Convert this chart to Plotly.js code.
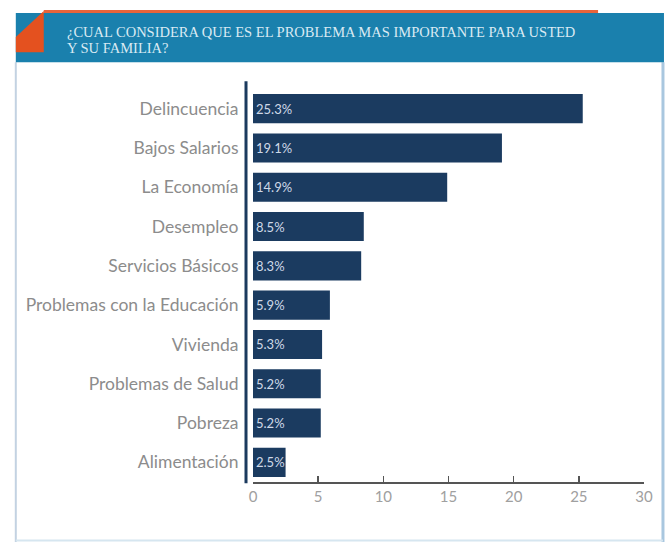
<!DOCTYPE html>
<html>
<head>
<meta charset="utf-8">
<script src="https://cdn.plot.ly/plotly-3.0.1.min.js"></script>
<style>html,body{margin:0;padding:0;background:#fff;}#chart{width:672px;height:542px;}</style>
</head>
<body>
<div id="chart"></div>
<script>
const categories = ["Delincuencia","Bajos Salarios","La Economía","Desempleo","Servicios Básicos","Problemas con la Educación","Vivienda","Problemas de Salud","Pobreza","Alimentación"];
const values = [25.3, 19.1, 14.9, 8.5, 8.3, 5.9, 5.3, 5.2, 5.2, 2.5];
const valueLabels = ["25.3%","19.1%","14.9%","8.5%","8.3%","5.9%","5.3%","5.2%","5.2%","2.5%"];
const xTicks = [0, 5, 10, 15, 20, 25, 30];
const titleLines = ["¿CUAL CONSIDERA QUE ES EL PROBLEMA MAS IMPORTANTE PARA USTED", "Y SU FAMILIA?"];

const W = 672, H = 542;
const L = 252.5, R = 28, T = 88.85, B = 60.35;
const pw = W - L - R, ph = H - T - B;
const px = x => (x - L) / pw;
const py = y => (H - B - y) / ph;

const shapes = [
  // frame
  {type:'line', xref:'paper', yref:'paper', x0:px(15), x1:px(15), y0:py(62), y1:py(542), line:{color:'#c3d2e2', width:2}, layer:'below'},
  {type:'line', xref:'paper', yref:'paper', x0:px(663), x1:px(663), y0:py(62), y1:py(542), line:{color:'#a9c7df', width:3}, layer:'below'},
  {type:'line', xref:'paper', yref:'paper', x0:px(15), x1:px(663), y0:py(540), y1:py(540), line:{color:'#d6e6f0', width:2}, layer:'below'},
  // orange top stripe
  {type:'rect', xref:'paper', yref:'paper', x0:px(43), x1:px(598), y0:py(14), y1:py(10), fillcolor:'#e8643a', line:{width:0}},
  // blue banner
  {type:'rect', xref:'paper', yref:'paper', x0:px(15), x1:px(664), y0:py(62), y1:py(13), fillcolor:'#1a80ad', line:{width:0}},
  // orange corner
  {type:'path', xref:'paper', yref:'paper',
   path:'M '+px(15)+' '+py(37)+' L '+px(43)+' '+py(11)+' L '+px(43)+' '+py(52)+' L '+px(15)+' '+py(52)+' Z',
   fillcolor:'#e4511f', line:{width:0}},
  // y axis line
  {type:'line', xref:'paper', yref:'paper', x0:px(245.5), x1:px(245.5), y0:py(483), y1:py(81), line:{color:'#1b3a5e', width:3}}
];

const annotations = [
  {xref:'paper', yref:'paper', x:px(64), y:py(31.5), xanchor:'left', yanchor:'middle', showarrow:false, text:titleLines[0],
   font:{family:'Liberation Serif, serif', size:14.5, color:'#d9eaf3'}},
  {xref:'paper', yref:'paper', x:px(64), y:py(48), xanchor:'left', yanchor:'middle', showarrow:false, text:titleLines[1],
   font:{family:'Liberation Serif, serif', size:14.5, color:'#d9eaf3'}}
];

const trace = {
  type:'bar', orientation:'h', x:values, y:categories,
  marker:{color:'#1b3b60', line:{width:0}},
  text:valueLabels, textposition:'inside', insidetextanchor:'start',
  textfont:{family:'Lato, sans-serif', size:13, color:'#cfd9e8'},
  hoverinfo:'none', cliponaxis:false
};

const layout = {
  width:W, height:H,
  margin:{l:L, r:R, t:T, b:B, pad:0},
  paper_bgcolor:'#ffffff', plot_bgcolor:'#ffffff',
  showlegend:false, bargap:0.26,
  uniformtext:{mode:'show', minsize:13},
  font:{family:'Lato, sans-serif'},
  xaxis:{range:[0,30], tickvals:xTicks, ticktext:xTicks.map(String), showgrid:false, zeroline:false,
    showline:true, linecolor:'#555555', linewidth:1.5, ticks:'inside', ticklen:6, tickwidth:1.5, tickcolor:'#555555',
    tickfont:{family:'Lato, sans-serif', size:15, color:'#a0a0a0'}, fixedrange:true},
  yaxis:{autorange:'reversed', showgrid:false, zeroline:false, showline:false, ticks:'outside', ticklen:10, tickcolor:'rgba(0,0,0,0)',
    tickfont:{family:'Lato, sans-serif', size:17.5, color:'#8c8c8c'}, fixedrange:true},
  shapes:shapes, annotations:annotations
};

Plotly.newPlot('chart', [trace], layout, {displayModeBar:false, staticPlot:true});
</script>
</body>
</html>
